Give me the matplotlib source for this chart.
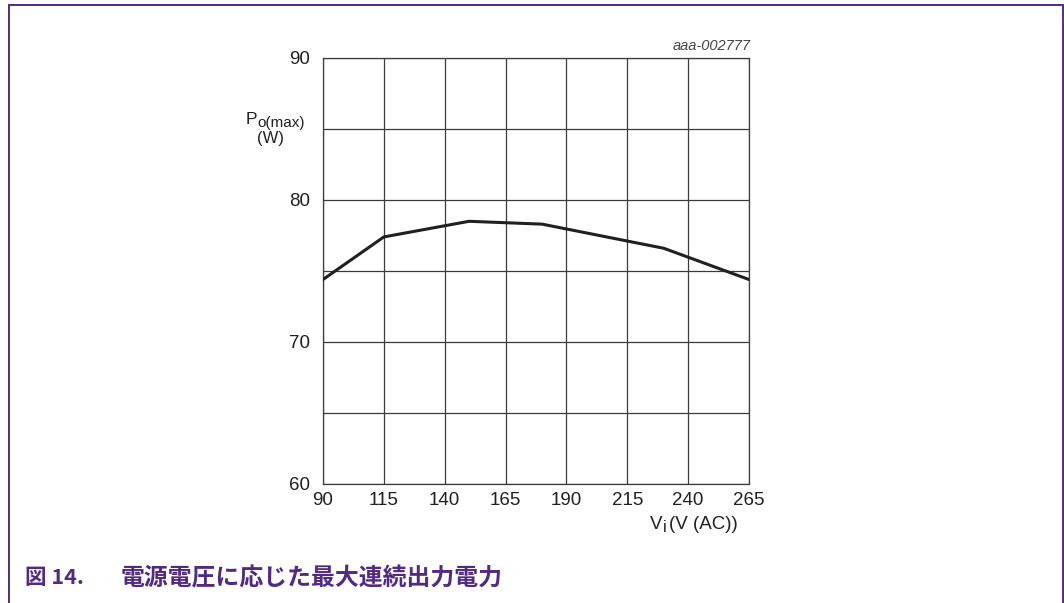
import matplotlib
matplotlib.use("Agg")
import matplotlib.pyplot as plt
from matplotlib.patches import Rectangle

# Input voltage (V AC) and maximum continuous output power (W)
vin = [90, 115, 150, 180, 230, 265]
pout = [74.4, 77.4, 78.5, 78.3, 76.6, 74.4]

x_ticks = [90, 115, 140, 165, 190, 215, 240, 265]
y_ticks = [60, 65, 70, 75, 80, 85, 90]
y_labels = ["60", "", "70", "", "80", "", "90"]

W, H = 1064, 603
fig = plt.figure(figsize=(W / 100, H / 100), dpi=100)
fig.patch.set_facecolor("white")

purple = "#512a86"
grid_c = "#3c3a3a"
ink = "#231f20"
sans = "Liberation Sans"
cjk = ["Noto Sans CJK JP", "DejaVu Sans"]

# page frame
frame = Rectangle((9 / W, -0.01), (1063 - 9) / W, 1.01 - 5 / H,
                  transform=fig.transFigure, fill=False,
                  edgecolor=purple, linewidth=1.4)
fig.patches.append(frame)

ax = fig.add_axes([323 / W, 1 - 484 / H, (749 - 323) / W, (484 - 58) / H])
ax.plot(vin, pout, color=ink, linewidth=2.2, solid_joinstyle="miter", zorder=3)

ax.set_xlim(90, 265)
ax.set_ylim(60, 90)
ax.set_xticks(x_ticks)
ax.set_yticks(y_ticks)
ax.set_yticklabels(y_labels)
ax.grid(True, color=grid_c, linewidth=0.9)
for s in ax.spines.values():
    s.set_color(grid_c)
    s.set_linewidth(0.9)
ax.tick_params(length=0, labelsize=13.5, colors=ink)
ax.tick_params(axis="x", pad=6)
ax.tick_params(axis="y", pad=9)
for lab in ax.get_xticklabels() + ax.get_yticklabels():
    lab.set_fontfamily(sans)

# y-axis title: P with o(max) subscript, unit below
fig.text(257 / W, 1 - 124 / H, "P", ha="right", va="baseline",
         fontsize=12.5, family=sans, color=ink)
fig.text(257 / W, 1 - 127.5 / H, "o(max)", ha="left", va="baseline",
         fontsize=11, family=sans, color=ink)
fig.text(271 / W, 1 - 138 / H, "(W)", ha="center", va="center",
         fontsize=12, family=sans, color=ink)

# x-axis title: V with i subscript
fig.text(662 / W, 1 - 529 / H, "V", ha="right", va="baseline",
         fontsize=13.5, family=sans, color=ink)
fig.text(663 / W, 1 - 532 / H, "i", ha="left", va="baseline",
         fontsize=11.5, family=sans, color=ink)
fig.text(738 / W, 1 - 529 / H, "(V (AC))", ha="right", va="baseline",
         fontsize=13.5, family=sans, color=ink)

fig.text(751 / W, 1 - 46 / H, "aaa-002777", ha="right", va="center",
         fontsize=10.5, family=sans, style="italic", color="#444444")

fig.text(25 / W, 1 - 578 / H, "図 14.", ha="left", va="center", fontsize=15.5,
         fontweight="bold", family=cjk, color=purple)
fig.text(121 / W, 1 - 578 / H, "電源電圧に応じた最大連続出力電力", ha="left", va="center",
         fontsize=17.2, fontweight="bold", family=cjk, color=purple)

fig.savefig("out.png", dpi=100, facecolor="white")
